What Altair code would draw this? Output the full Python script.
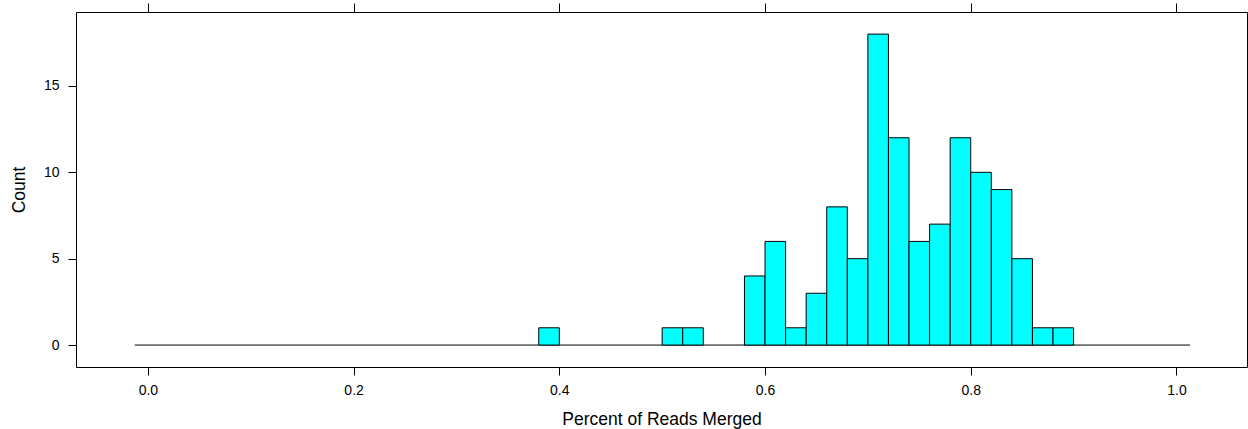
import altair as alt
import pandas as pd

# histogram bins (width 0.02) with nonzero counts
bin_start = [0.38, 0.50, 0.52, 0.58, 0.60, 0.62, 0.64, 0.66, 0.68, 0.70,
             0.72, 0.74, 0.76, 0.78, 0.80, 0.82, 0.84, 0.86, 0.88]
counts = [1, 1, 1, 4, 6, 1, 3, 8, 5, 18, 12, 6, 7, 12, 10, 9, 5, 1, 1]
bin_width = 0.02

# extent of the zero baseline drawn by the histogram
baseline_x = [-0.0128, 1.0132]

x_ticks = [0.0, 0.2, 0.4, 0.6, 0.8, 1.0]
y_ticks = [0, 5, 10, 15]
x_domain = [-0.0699, 1.0686]
y_domain = [-1.27, 19.28]

bars = pd.DataFrame({
    "start": bin_start,
    "end": [b + bin_width for b in bin_start],
    "count": counts,
    "zero": [0] * len(counts),
})
base_df = pd.DataFrame({"x": [baseline_x[0]], "x2": [baseline_x[1]], "y": [0]})

FONT = "Liberation Sans"

xscale = alt.Scale(domain=x_domain, nice=False, zero=False)
yscale = alt.Scale(domain=y_domain, nice=False, zero=False)

bottom_axis = alt.Axis(
    orient="bottom", values=x_ticks, format=".1f", domain=False, grid=False,
    tickSize=8, tickColor="black", tickWidth=1, labelPadding=8,
    labelFont=FONT, labelFontSize=14, labelColor="black",
    title="Percent of Reads Merged", titleFont=FONT, titleFontSize=17.5,
    titleFontWeight="normal", titleColor="black", titlePadding=13,
)
top_axis = alt.Axis(
    orient="top", values=x_ticks, labels=False, domain=False, grid=False,
    tickSize=9, tickColor="black", tickWidth=1, title=None,
)
left_axis = alt.Axis(
    orient="left", values=y_ticks, domain=False, grid=False,
    tickSize=8, tickColor="black", tickWidth=1, labelPadding=9,
    labelFont=FONT, labelFontSize=14, labelColor="black",
    title="Count", titleFont=FONT, titleFontSize=17.5, titleFontWeight="normal",
    titleColor="black", titlePadding=15,
)

baseline = alt.Chart(base_df).mark_rule(color="black", strokeWidth=1).encode(
    x=alt.X("x:Q", scale=xscale, axis=top_axis),
    x2="x2:Q",
    y=alt.Y("y:Q", scale=yscale, axis=left_axis),
)

hist = alt.Chart(bars).mark_rect(fill="#00FFFF", stroke="black", strokeWidth=1).encode(
    x=alt.X("start:Q", scale=xscale, axis=bottom_axis),
    x2="end:Q",
    y=alt.Y("count:Q", scale=yscale, axis=left_axis),
    y2="zero:Q",
)

chart = alt.layer(baseline, hist).resolve_axis(x="independent").properties(
    width=1171, height=355,
    background="white",
    autosize=alt.AutoSizeParams(type="none"),
    padding={"left": 76, "top": 12, "right": 1, "bottom": 62},
).configure_view(stroke="black", strokeWidth=1)

chart.save("out.html", embed_options={"renderer": "svg", "actions": False})
